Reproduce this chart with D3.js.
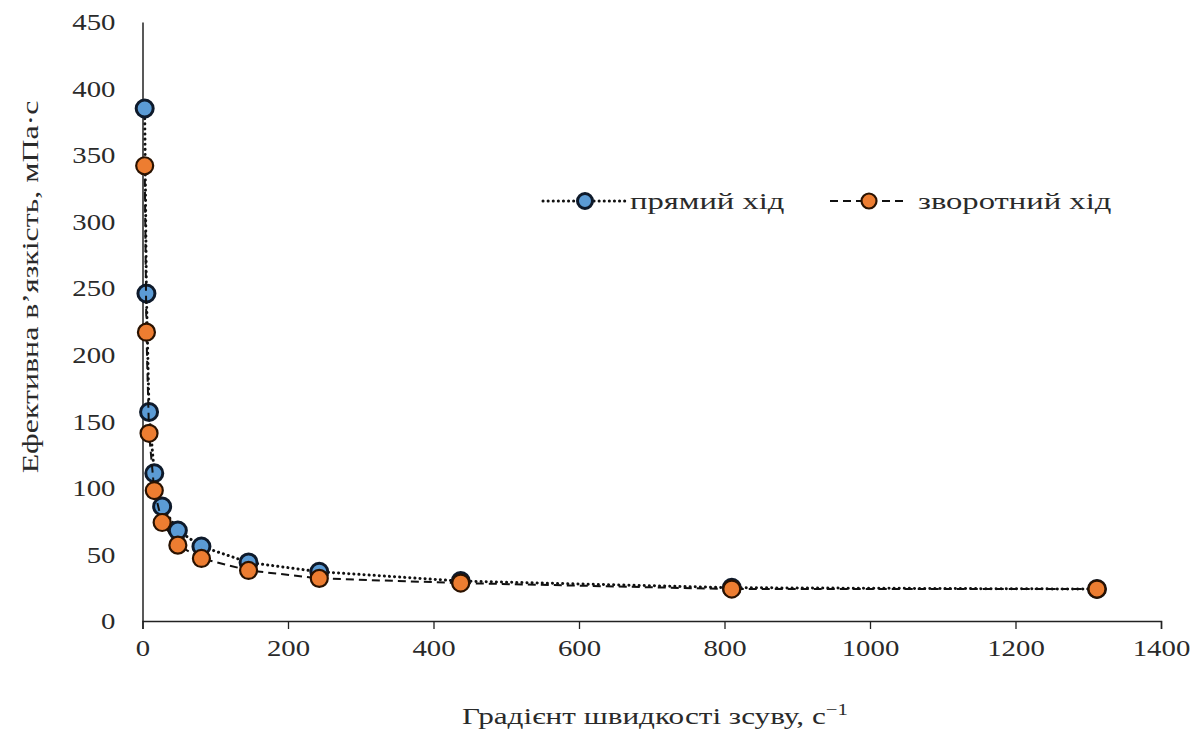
<!DOCTYPE html>
<html>
<head>
<meta charset="utf-8">
<script src="https://cdn.jsdelivr.net/npm/d3@7"></script>
<style>
  body { margin: 0; background: #fff; }
  text { font-family: "Liberation Serif", "Times New Roman", serif; fill: #2a2a2a; }
</style>
</head>
<body>
<script>
// shear rate, 1/s
let shearRates = [3, 5.4, 9, 16.2, 27, 48.6, 81, 145.8, 243, 437.4, 810, 1312];
// effective viscosity, mPa·s
let forwardVisc = [385, 246, 157, 111, 86, 68, 56, 44, 37, 30, 25, 24];
let reverseVisc = [342, 217, 141, 98, 74, 57, 47, 38, 32, 28.5, 24, 24];

let xTicks = [0, 200, 400, 600, 800, 1000, 1200, 1400];
let yTicks = [0, 50, 100, 150, 200, 250, 300, 350, 400, 450];
let seriesNames = ["прямий хід", "зворотний хід"];

let svgWidth = 1201,
	svgHeight = 732;

// the source picture is a bit stretched sideways, so is the text
let tickStretch = 1.2,
	titleStretch = 1.3,
	legendStretch = 1.36;

let svg = d3.select("body")
	.append("svg")
	.attr("width", svgWidth)
	.attr("height", svgHeight);

let x = d3.scaleLinear().domain([0, 1400]).range([142.5, 1161]);
let y = d3.scaleLinear().domain([0, 450]).range([621, 22]);

// axes
let xAxis = svg.append("g")
	.attr("transform", "translate(0,621)")
	.call(d3.axisBottom(x).tickValues(xTicks).tickFormat(d3.format("d")).tickSize(8).tickPadding(10));
xAxis.select(".domain").attr("stroke", "#222").attr("stroke-width", 1.5);
xAxis.selectAll(".tick line").attr("stroke", "#222").attr("stroke-width", 1.3);
xAxis.selectAll("text")
	.style("font-size", "24px")
	.attr("fill", "#2a2a2a")
	.attr("transform", `scale(${tickStretch},1)`);

let yAxis = svg.append("g")
	.attr("transform", "translate(142.5,0)")
	.call(d3.axisLeft(y).tickValues(yTicks).tickSize(0).tickPadding(27));
yAxis.select(".domain").attr("stroke", "#222").attr("stroke-width", 1.5);
yAxis.selectAll("text")
	.style("font-size", "24px")
	.attr("fill", "#2a2a2a")
	.attr("x", -27 / tickStretch)
	.attr("transform", `scale(${tickStretch},1)`);

// axis titles
svg.append("text")
	.attr("transform", `translate(38,287) rotate(-90) scale(${titleStretch + 0.03},1)`)
	.attr("text-anchor", "middle")
	.style("font-size", "24px")
	.text("Ефективна в’язкість, мПа·с");

let xTitle = svg.append("text")
	.attr("transform", `translate(655,724) scale(${titleStretch},1)`)
	.attr("text-anchor", "middle")
	.style("font-size", "24px");
xTitle.append("tspan").text("Градієнт швидкості зсуву, с");
xTitle.append("tspan").attr("dy", -9).style("font-size", "16px").text("−1");

// series
let forward = shearRates.map((s, i) => ({ s: s, v: forwardVisc[i] }));
let reverse = shearRates.map((s, i) => ({ s: s, v: reverseVisc[i] }));

let line = d3.line()
	.x(d => x(d.s))
	.y(d => y(d.v));

let styles = [
	{ fill: "#5b9bd5", stroke: "#0e1a2b", sw: 3, dash: "0.1 5", cap: "round", lw: 3 },
	{ fill: "#ed7d31", stroke: "#2a1200", sw: 2.2, dash: "8 5", cap: "butt", lw: 2 }
];

[forward, reverse].forEach(function(data, k) {
	let st = styles[k];
	svg.append("path")
		.attr("d", line(data))
		.attr("fill", "none")
		.attr("stroke", "#111")
		.attr("stroke-width", st.lw)
		.attr("stroke-dasharray", st.dash)
		.attr("stroke-linecap", st.cap);
	svg.append("g").selectAll("circle")
		.data(data)
		.enter()
		.append("circle")
		.attr("cx", d => x(d.s))
		.attr("cy", d => y(d.v))
		.attr("r", 8.5)
		.attr("fill", st.fill)
		.attr("stroke", st.stroke)
		.attr("stroke-width", st.sw);
});

// legend
let legendItems = [
	{ cx: 585, len: 84, tx: 630 },
	{ cx: 869, len: 78, tx: 918 }
];
legendItems.forEach(function(it, k) {
	let st = styles[k];
	let g = svg.append("g").attr("transform", "translate(0,201)");
	g.append("line")
		.attr("x1", it.cx - it.len / 2)
		.attr("x2", it.cx + it.len / 2)
		.attr("y1", 0).attr("y2", 0)
		.attr("stroke", "#111")
		.attr("stroke-width", st.lw)
		.attr("stroke-dasharray", st.dash)
		.attr("stroke-linecap", st.cap);
	g.append("circle")
		.attr("cx", it.cx)
		.attr("r", 7.5)
		.attr("fill", st.fill)
		.attr("stroke", st.stroke)
		.attr("stroke-width", st.sw);
	g.append("text")
		.attr("transform", `translate(${it.tx},8) scale(${legendStretch},1)`)
		.style("font-size", "24px")
		.text(seriesNames[k]);
});
</script>
</body>
</html>
